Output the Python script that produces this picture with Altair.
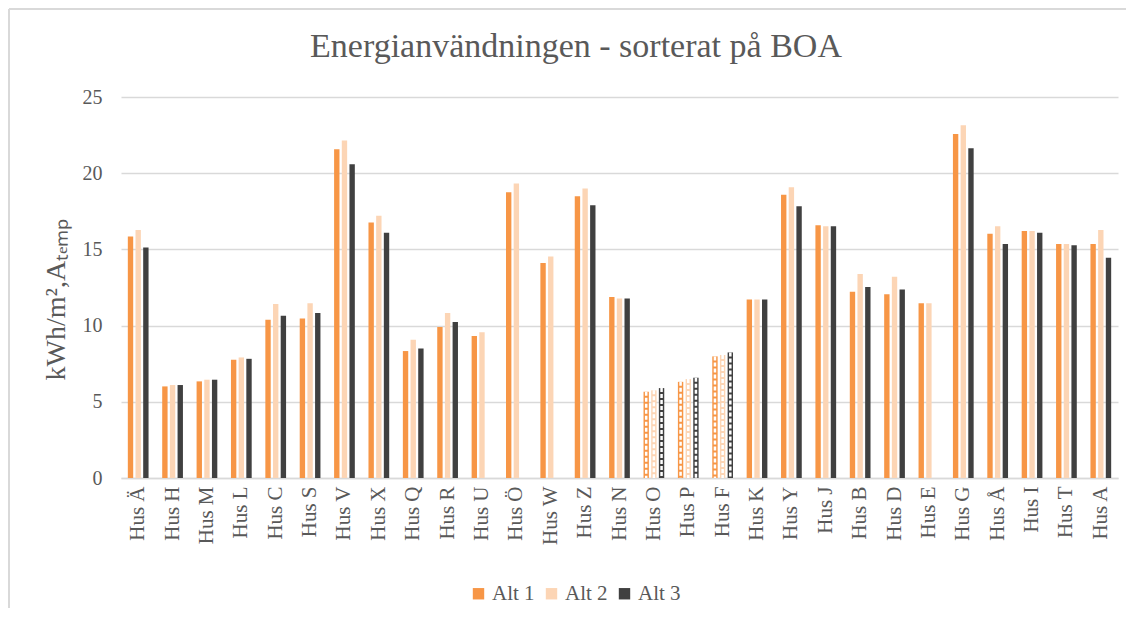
import altair as alt
import pandas as pd

cats = ["Hus Ä", "Hus H", "Hus M", "Hus L", "Hus C", "Hus S", "Hus V", "Hus X",
        "Hus Q", "Hus R", "Hus U", "Hus Ö", "Hus W", "Hus Z", "Hus N", "Hus O",
        "Hus P", "Hus F", "Hus K", "Hus Y", "Hus J", "Hus B", "Hus D", "Hus E",
        "Hus G", "Hus Å", "Hus I", "Hus T", "Hus A"]
alt1 = [15.85, 6.01, 6.34, 7.76, 10.38, 10.47, 21.57, 16.76, 8.33, 9.90, 9.31,
        18.75, 14.10, 18.49, 11.87, 5.66, 6.31, 7.98, 11.71, 18.58, 16.59, 12.22,
        12.06, 11.47, 22.57, 16.02, 16.20, 15.36, 15.36]
alt2 = [16.28, 6.10, 6.45, 7.91, 11.41, 11.47, 22.14, 17.20, 9.07, 10.82, 9.57,
        19.32, 14.53, 18.99, 11.78, 5.75, 6.49, 8.07, 11.71, 19.08, 16.52, 13.38,
        13.20, 11.47, 23.15, 16.52, 16.20, 15.36, 16.28]
alt3 = [15.12, 6.10, 6.45, 7.82, 10.64, 10.82, 20.59, 16.10, 8.50, 10.23, None,
        None, None, 17.90, 11.78, 5.90, 6.58, 8.24, 11.71, 17.83, 16.52, 12.54,
        12.37, None, 21.64, 15.36, 16.10, 15.28, 14.45]
hatched = ["Hus O", "Hus P", "Hus F"]
series = ["Alt 1", "Alt 2", "Alt 3"]
colors = ["#F79646", "#FCD5B5", "#404040"]
title_text = "Energianvändningen - sorterat på BOA"

rows = []
for s, vals in zip(series, [alt1, alt2, alt3]):
    for c, v in zip(cats, vals):
        if v is not None:
            rows.append({"cat": c, "series": s, "value": v, "hatch": c in hatched})
df = pd.DataFrame(rows)

FONT = "Liberation Serif"
GRAY = "#595959"

y_scale = alt.Scale(domain=[0, 25], nice=False, zero=True)
x_scale = alt.Scale(paddingInner=0.33, paddingOuter=0.165)

x_enc = alt.X("cat:N", sort=cats, title=None, scale=x_scale,
              axis=alt.Axis(labelAngle=270, labelFont=FONT, labelFontSize=21,
                            labelColor=GRAY, labelPadding=8, ticks=False,
                            domainColor="#D9D9D9", domainWidth=1.5,
                            labelBaseline="middle"))
xoff = alt.XOffset("series:N", sort=series,
                   scale=alt.Scale(paddingInner=0.3, paddingOuter=0.15))
y_enc = alt.Y("value:Q", title="kWh/m²,Aₜₑₘₚ", scale=y_scale,
              axis=alt.Axis(values=[0, 5, 10, 15, 20, 25], labelFont=FONT,
                            labelFontSize=20, labelColor=GRAY, labelPadding=19,
                            ticks=False, domain=False, gridColor="#D9D9D9",
                            gridWidth=1.5, titleFont=FONT, titleFontSize=28,
                            titleColor=GRAY, titleFontWeight="normal",
                            titlePadding=12, titleY=202))

bars = alt.Chart(df).mark_bar().encode(
    x=x_enc, xOffset=xoff, y=y_enc,
    color=alt.Color("series:N", sort=series,
                    scale=alt.Scale(domain=series, range=colors),
                    legend=alt.Legend(title=None, orient="none", legendX=347,
                                      legendY=486, direction="horizontal",
                                      symbolType="square", symbolSize=130,
                                      symbolStrokeWidth=0, labelFont=FONT,
                                      labelFontSize=21, labelColor=GRAY,
                                      labelOffset=3, columnPadding=6)),
)

hatch = alt.Chart(df).transform_filter(alt.datum.hatch).mark_rule(
    color="white", strokeWidth=2.5, strokeDash=[4, 2]
).encode(x=alt.X("cat:N", sort=cats, scale=x_scale), xOffset=xoff,
         y=alt.Y("value:Q", scale=y_scale), y2=alt.datum(0))

title_df = pd.DataFrame({"t": [title_text]})
title = alt.Chart(title_df).mark_text(
    font=FONT, fontSize=34, color=GRAY, align="center", baseline="alphabetic"
).encode(text="t:N", x=alt.value(455), y=alt.value(-40))

frame_left = alt.Chart(title_df).mark_rule(color="#D9D9D9", strokeWidth=2).encode(
    x=alt.value(-112), y=alt.value(-88), y2=alt.value(530))
frame_top = alt.Chart(title_df).mark_rule(color="#D9D9D9", strokeWidth=2).encode(
    x=alt.value(-112), x2=alt.value(1010), y=alt.value(-88))

chart = alt.layer(bars, hatch, title, frame_left, frame_top).properties(
    width=997, height=381,
    autosize=alt.AutoSizeParams(type="none"),
    padding={"left": 113, "top": 89, "right": 8, "bottom": 130},
).configure_view(stroke=None)

chart.save("out.html", embed_options={"renderer": "svg", "actions": False})
